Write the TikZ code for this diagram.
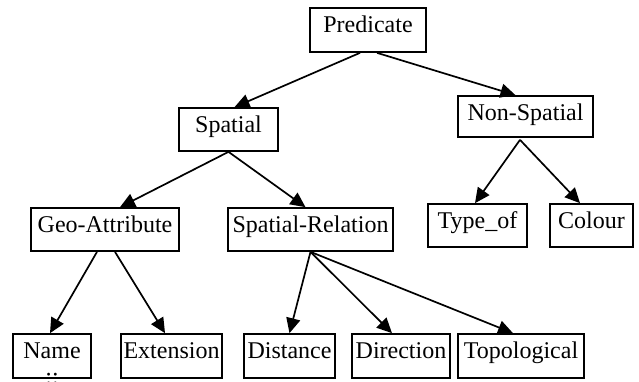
\documentclass[tikz,border=0pt]{standalone}
\usepackage{fontspec}
\setmainfont{Liberation Serif}
\usetikzlibrary{arrows.meta}
\begin{document}
\begin{tikzpicture}[x=1pt,y=-1pt,
  box/.style={draw,line width=1.7pt,inner sep=0pt,text height=24pt,text depth=19pt,
    font=\fontsize{24}{27}\selectfont},
  arr/.style={line width=1.7pt,-{Triangle[length=15pt,width=14pt]}}]
\useasboundingbox (0,0) rectangle (639,381);
\clip (0,0) rectangle (639,381);
\node[box,minimum width=116pt,text depth=20pt] (pred) at (368,30) {Predicate};
\node[box,minimum width=99pt] (spatial) at (228.5,129.5) {Spatial};
\node[box,minimum width=135pt,text depth=17pt] (nonsp) at (525.5,116.5) {Non-Spatial};
\node[box,minimum width=148pt] (geo) at (105,229.5) {Geo-Attribute};
\node[box,minimum width=165pt] (sr) at (310.5,229.5) {Spatial-Relation};
\node[box,minimum width=99pt] (type) at (477.5,225.5) {Type\_of};
\node[box,minimum width=83pt] (colour) at (591.5,225.5) {Colour};
\node[box,minimum width=78pt,text depth=20pt] (name) at (52,356) {Name};
\node[font=\fontsize{24}{27}\selectfont,inner sep=0pt,anchor=base] (namedots) at (52,384) {::};
\node[box,minimum width=101pt,text depth=20pt] (ext) at (171.5,356) {Extension};
\node[box,minimum width=91pt,text depth=20pt] (dist) at (289.5,356) {Distance};
\node[box,minimum width=98pt,text depth=20pt] (dir) at (401,356) {Direction};
\node[box,minimum width=126pt,text depth=20pt] (topo) at (521,356) {Topological};
\draw[arr] ([xshift=-8pt]pred.south) -- ([xshift=6pt]spatial.north);
\draw[arr] ([xshift=9pt]pred.south) -- ([xshift=-10pt]nonsp.north);
\draw[arr] (spatial.south) -- ([xshift=15pt]geo.north);
\draw[arr] (spatial.south) -- ([xshift=-5pt]sr.north);
\draw[arr] ([xshift=-5.5pt,yshift=-2pt]nonsp.south) -- ([xshift=-2.5pt]type.north);
\draw[arr] ([xshift=-5.5pt,yshift=-2pt]nonsp.south) -- ([xshift=-11.5pt]colour.north);
\draw[arr] ([xshift=-8pt]geo.south) -- ([xshift=-2pt]name.north);
\draw[arr] ([xshift=10pt]geo.south) -- ([xshift=-6.5pt]ext.north);
\draw[arr] (sr.south) -- (dist.north);
\draw[arr] (sr.south) -- ([xshift=-9pt]dir.north);
\draw[arr] (sr.south) -- ([xshift=-8pt]topo.north);
\end{tikzpicture}
\end{document}
